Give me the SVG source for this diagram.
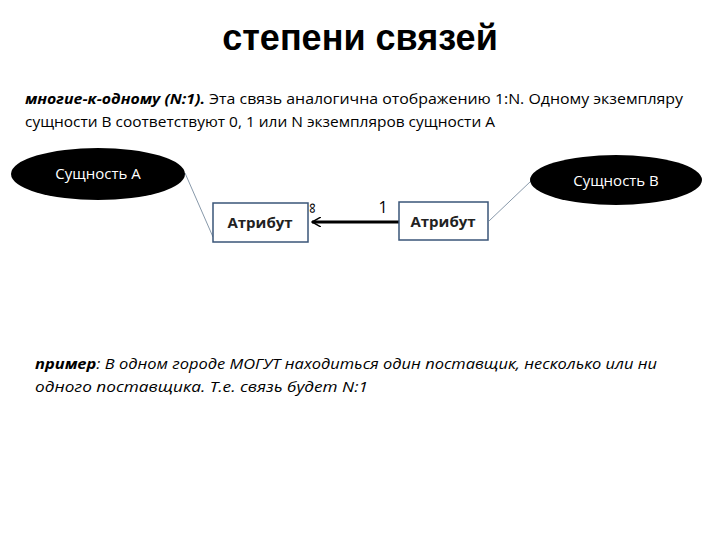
<svg xmlns="http://www.w3.org/2000/svg" width="720" height="540" viewBox="0 0 720 540">
<style>
text{font-family:"Open Sans","Liberation Sans",sans-serif;fill:#000}
.p{font-size:15px}
.box{fill:#fff;stroke:#3a5578;stroke-width:1.5}
.ent{fill:#000}
.et{fill:#fff;font-size:15px;text-anchor:middle}
.bt{font-size:15px;text-anchor:middle;font-weight:bold;fill:#222}
</style>
<defs><marker id="ar" markerWidth="10" markerHeight="10" refX="9" refY="5" orient="auto" markerUnits="userSpaceOnUse"><path d="M0,0 L9,5 L0,10" fill="none" stroke="#000" stroke-width="1.5"/></marker></defs>
<rect width="720" height="540" fill="#fff"/>
<text x="360" y="50" font-size="36" text-anchor="middle" font-weight="bold" style="font-family:'Liberation Sans',sans-serif">степени связей</text>
<text class="p" x="25" y="104" textLength="658" lengthAdjust="spacingAndGlyphs"><tspan font-weight="bold" font-style="italic">многие-к-одному (N:1).</tspan> Эта связь аналогична отображению 1:N. Одному экземпляру</text>
<text class="p" x="25" y="127" textLength="470" lengthAdjust="spacingAndGlyphs">сущности В соответствуют 0, 1 или N экземпляров сущности А</text>
<g id="connectors">
<line x1="185" y1="173" x2="213" y2="237" stroke="#8899aa" stroke-width="1"/>
<line x1="489" y1="221" x2="531" y2="181" stroke="#8899aa" stroke-width="1"/>
<line x1="399" y1="222" x2="312" y2="222" stroke="#000" stroke-width="3" marker-end="url(#ar)"/>
<text x="318" y="208" font-size="16" transform="rotate(-90 318 208)" text-anchor="middle">∞</text>
<text x="383" y="213" font-size="16" text-anchor="middle">1</text>
</g>
<g id="entA"><ellipse class="ent" cx="98" cy="174" rx="87" ry="26"/><text class="et" x="98" y="179">Сущность А</text></g>
<g id="entB"><ellipse class="ent" cx="616" cy="180" rx="86" ry="25"/><text class="et" x="616" y="186">Сущность В</text></g>
<g id="attrA"><rect class="box" x="213" y="203" width="95" height="39"/><text class="bt" x="260" y="228">Атрибут</text></g>
<g id="attrB"><rect class="box" x="399" y="202" width="89" height="38"/><text class="bt" x="443" y="227">Атрибут</text></g>
<text class="p" x="35" y="369" font-style="italic" textLength="622" lengthAdjust="spacingAndGlyphs"><tspan font-weight="bold">пример</tspan>: В одном городе МОГУТ находиться один поставщик, несколько или ни</text>
<text class="p" x="35" y="392" font-style="italic" textLength="333" lengthAdjust="spacingAndGlyphs">одного поставщика. Т.е. связь будет N:1</text>
</svg>
